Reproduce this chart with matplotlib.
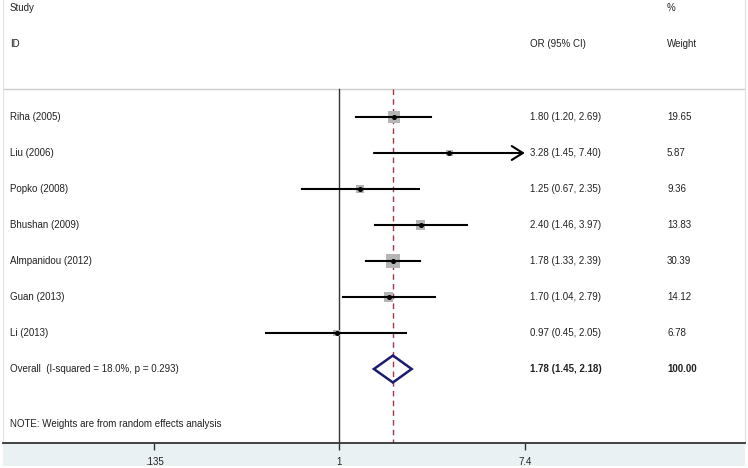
import numpy as np
import matplotlib.pyplot as plt
from matplotlib.patches import Polygon, Rectangle
import matplotlib.transforms as mtransforms

plt.rcParams['font.family'] = ['Liberation Sans', 'DejaVu Sans']

# donnees du forest plot
studies = ['Riha (2005)', 'Liu (2006)', 'Popko (2008)', 'Bhushan (2009)',
           'Almpanidou (2012)', 'Guan (2013)', 'Li (2013)']
odds_ratio = [1.80, 3.28, 1.25, 2.40, 1.78, 1.70, 0.97]
ci_low = [1.20, 1.45, 0.67, 1.46, 1.33, 1.04, 0.45]
ci_high = [2.69, 7.40, 2.35, 3.97, 2.39, 2.79, 2.05]
weights = [19.65, 5.87, 9.36, 13.83, 30.39, 14.12, 6.78]

overall_label = 'Overall  (I-squared = 18.0%, p = 0.293)'
overall_or = 1.78
overall_low = 1.45
overall_high = 2.18
overall_weight = 100.00

tick_values = [0.135, 1, 7.4]
tick_labels = ['.135', '1', '7.4']
x_clip = 7.4  # au-dela, Stata dessine une fleche

fig = plt.figure(figsize=(7.48, 4.68), dpi=100)
fig.patch.set_facecolor('white')
# bande grise-bleue sous l'axe
fig.patches.append(Rectangle((0.004, 2 / 468), 0.992, 23 / 468, transform=fig.transFigure,
                             facecolor='#eaf1f3', edgecolor='none', zorder=-5))

ax = fig.add_axes([3 / 748, 25 / 468, 742 / 748, 443 / 468])
ax.set_zorder(2)
ax.set_xscale('log')
ax.set_xlim(np.exp(-336.5 / 92.6), np.exp(405.5 / 92.6))
ax.set_ylim((443 - 117) / 36, -117 / 36)

ax.spines['top'].set_visible(False)
for s in ['left', 'right']:
    ax.spines[s].set_color('#e2e2e2')
    ax.spines[s].set_linewidth(0.8)
ax.spines['bottom'].set_color('#333333')
ax.spines['bottom'].set_linewidth(1.3)

ax.set_xticks(tick_values)
ax.set_xticklabels(tick_labels)
ax.minorticks_off()
ax.tick_params(axis='x', direction='out', length=5, width=1, color='#333333',
               labelsize=7, pad=5, labelcolor='#222222')
ax.set_yticks([])

n = len(studies)
rows = np.arange(n)
row_overall = n
y_line = -28 / 36
y_bottom = ax.get_ylim()[0]

trans = mtransforms.blended_transform_factory(ax.transAxes, ax.transData)

# ligne horizontale sous l'en-tete
ax.axhline(y_line, color='#cccccc', lw=1)
# ligne de reference a 1 et ligne de l'effet global
ax.plot([1, 1], [y_line, y_bottom], color='#333333', lw=1, zorder=2)
ax.plot([overall_or, overall_or], [y_line, y_bottom], color='#a8344a', lw=1,
        dashes=(4, 3), zorder=2)

# carres ponderes, IC et points
side_px = 14 * np.sqrt(np.array(weights) / max(weights))
ax.scatter(odds_ratio, rows, marker='s', s=(side_px * 0.72) ** 2,
           color='#b5b5b5', edgecolors='none', zorder=3)
for i in range(n):
    hi = min(ci_high[i], x_clip)
    if ci_high[i] >= x_clip:
        ax.annotate('', xy=(hi, rows[i]), xytext=(ci_low[i], rows[i]),
                    arrowprops=dict(arrowstyle='->,head_length=0.8,head_width=0.5',
                                    color='black', lw=1.5, shrinkA=0, shrinkB=0),
                    zorder=4)
    else:
        ax.plot([ci_low[i], hi], [rows[i], rows[i]], color='black', lw=1.5, zorder=4)
ax.plot(odds_ratio, rows, 'o', color='black', markersize=2.6, zorder=5)

# losange de l'effet global
h = 13.5 / 36
diamond = Polygon([(overall_low, row_overall), (overall_or, row_overall - h),
                   (overall_high, row_overall), (overall_or, row_overall + h)],
                  closed=True, fill=False, edgecolor='#1c1c6e', lw=1.8, zorder=4)
ax.add_patch(diamond)

fs = 7
x_study = 7 / 742
x_or = 527 / 742
x_w = 664 / 742

# en-tetes
ax.text(x_study, -109 / 36, 'Study', transform=trans, fontsize=fs, va='center', color='#222222')
ax.text(x_study, -73 / 36, 'ID', transform=trans, fontsize=fs, va='center', color='#222222')
ax.text(x_or, -73 / 36, 'OR (95% CI)', transform=trans, fontsize=fs, va='center', color='#222222')
ax.text(x_w, -109 / 36, '%', transform=trans, fontsize=fs, va='center', color='#222222')
ax.text(x_w, -73 / 36, 'Weight', transform=trans, fontsize=fs, va='center', color='#222222')

for i in range(n):
    ax.text(x_study, rows[i], studies[i], transform=trans, fontsize=fs, va='center', color='#222222')
    ax.text(x_or, rows[i], f'{odds_ratio[i]:.2f} ({ci_low[i]:.2f}, {ci_high[i]:.2f})',
            transform=trans, fontsize=fs, va='center', color='#222222')
    ax.text(x_w, rows[i], f'{weights[i]:.2f}', transform=trans, fontsize=fs,
            va='center', color='#222222')

ax.text(x_study, row_overall, overall_label, transform=trans, fontsize=fs, va='center', color='#222222')
ax.text(x_or, row_overall, f'{overall_or:.2f} ({overall_low:.2f}, {overall_high:.2f})',
        transform=trans, fontsize=fs, va='center', fontweight='bold', color='#222222')
ax.text(x_w, row_overall, f'{overall_weight:.2f}', transform=trans, fontsize=fs,
        va='center', fontweight='bold', color='#222222')

ax.text(x_study, (424 - 117) / 36, 'NOTE: Weights are from random effects analysis',
        transform=trans, fontsize=fs, va='center', color='#222222')

fig.savefig('out.png', dpi=100)
